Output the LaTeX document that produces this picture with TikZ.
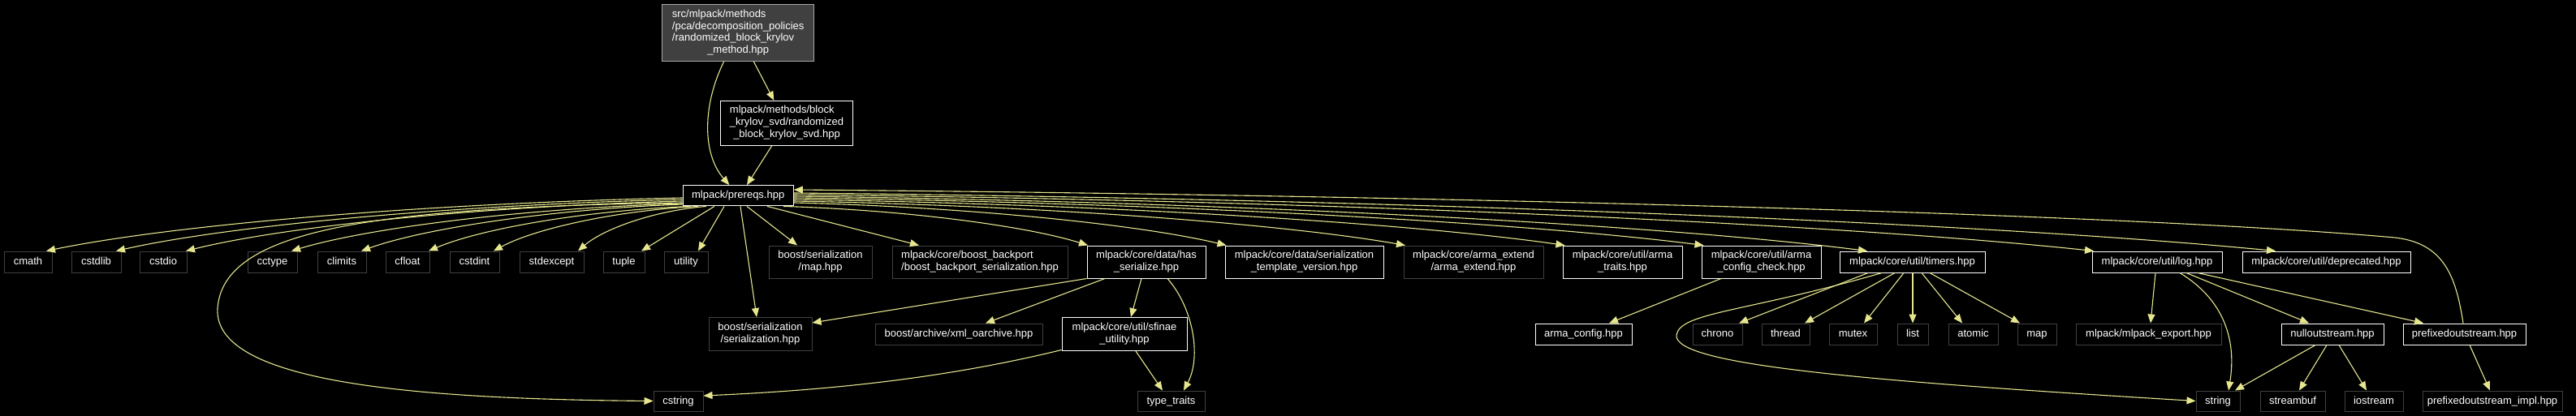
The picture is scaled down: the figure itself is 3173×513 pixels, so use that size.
\documentclass[tikz,border=0pt]{standalone}
\usepackage{fontspec}
\setmainfont{Liberation Sans}
\usetikzlibrary{arrows.meta}
\definecolor{edgec}{HTML}{E6E68F}
\definecolor{undb}{HTML}{404040}
\definecolor{rootf}{HTML}{404040}
\definecolor{rootb}{HTML}{A8A8A8}
\newcommand{\nf}{\fontsize{13pt}{14.8pt}\selectfont}
\newcommand{\ml}[2]{\begin{tabular}{@{}l@{}}#1\\\multicolumn{1}{@{}c@{}}{#2}\end{tabular}}
\tikzset{
  base/.style={rectangle, inner sep=0pt, text=white, font=\nf, line width=1pt},
  doc/.style={base, draw=white, fill=black},
  und/.style={base, draw=undb, fill=black},
  rootn/.style={base, draw=rootb, fill=rootf},
  sl/.style={minimum height=26pt, text height=11pt, text depth=4pt},
  dl/.style={minimum height=40pt},
  edge/.style={draw=edgec, line width=1.1pt, -{Triangle[length=11pt,width=9pt]}},
}
\begin{document}
\begin{tikzpicture}[x=1pt,y=1pt]
\fill[black] (0,0) rectangle (3173,-513);
\useasboundingbox (0,0) rectangle (3173,-513);
% top
\node[rootn, minimum width=187pt, minimum height=69.6pt] (root) at (909.2,-40.5) {\ml{src/mlpack/methods\\/pca/decomposition\_policies\\/randomized\_block\_krylov}{\_method.hpp}};
\node[doc, minimum width=163.4pt, minimum height=55pt] (svd) at (969,-151.8) {\ml{mlpack/methods/block\\\_krylov\_svd/randomized}{\_block\_krylov\_svd.hpp}};
\node[doc, minimum width=136.3pt, minimum height=25.3pt, text height=11pt, text depth=4pt] (prereqs) at (909.2,-241.3) {mlpack/prereqs.hpp};
% row 1
\node[und, sl, minimum width=59pt] (cmath) at (34.5,-323) {cmath};
\node[und, sl, minimum width=61pt] (cstdlib) at (118.5,-323) {cstdlib};
\node[und, sl, minimum width=58pt] (cstdio) at (201,-323) {cstdio};
\node[und, sl, minimum width=61pt] (cctype) at (335.5,-323) {cctype};
\node[und, sl, minimum width=60pt] (climits) at (421,-323) {climits};
\node[und, sl, minimum width=54pt] (cfloat) at (502,-323) {cfloat};
\node[und, sl, minimum width=61pt] (cstdint) at (584.5,-323) {cstdint};
\node[und, sl, minimum width=79pt] (stdexcept) at (679.5,-323) {stdexcept};
\node[und, sl, minimum width=51pt] (tuple) at (768.5,-323) {tuple};
\node[und, sl, minimum width=54pt] (utility) at (845,-323) {utility};
\node[und, dl, minimum width=127pt] (bsmap) at (1010.5,-323) {\ml{boost/serialization}{/map.hpp}};
\node[und, dl, minimum width=216pt] (backport) at (1207,-323) {\ml{mlpack/core/boost\_backport}{/boost\_backport\_serialization.hpp}};
\node[doc, dl, minimum width=146pt] (hasser) at (1412,-323) {\ml{mlpack/core/data/has}{\_serialize.hpp}};
\node[doc, dl, minimum width=195pt] (tplver) at (1606.5,-323) {\ml{mlpack/core/data/serialization}{\_template\_version.hpp}};
\node[und, dl, minimum width=172pt] (armaext) at (1815,-323) {\ml{mlpack/core/arma\_extend}{/arma\_extend.hpp}};
\node[doc, dl, minimum width=147pt] (armatraits) at (1998.5,-323) {\ml{mlpack/core/util/arma}{\_traits.hpp}};
\node[doc, dl, minimum width=147pt] (armacc) at (2169.5,-323) {\ml{mlpack/core/util/arma}{\_config\_check.hpp}};
\node[doc, sl, minimum width=179pt] (timers) at (2355.5,-323) {mlpack/core/util/timers.hpp};
\node[doc, sl, minimum width=160pt] (log) at (2657,-323) {mlpack/core/util/log.hpp};
\node[doc, sl, minimum width=207pt] (deprec) at (2865.5,-323) {mlpack/core/util/deprecated.hpp};
% row 2
\node[und, minimum height=41pt, minimum width=127pt] (bsser) at (936.5,-412) {\ml{boost/serialization}{/serialization.hpp}};
\node[und, sl, minimum width=206pt] (xmlo) at (1181,-412) {boost/archive/xml\_oarchive.hpp};
\node[doc, minimum height=41pt, minimum width=154pt] (sfinae) at (1385,-412) {\ml{mlpack/core/util/sfinae}{\_utility.hpp}};
\node[doc, sl, minimum width=119pt] (armacfg) at (1950.5,-412) {arma\_config.hpp};
\node[und, sl, minimum width=61pt] (chrono) at (2115.5,-412) {chrono};
\node[und, sl, minimum width=59pt] (thread) at (2199.5,-412) {thread};
\node[und, sl, minimum width=59pt] (mutex) at (2282.5,-412) {mutex};
\node[und, sl, minimum width=38pt] (list) at (2356,-412) {list};
\node[und, sl, minimum width=61pt] (atomic) at (2430.5,-412) {atomic};
\node[und, sl, minimum width=48pt] (stdmap) at (2509,-412) {map};
\node[und, sl, minimum width=179pt] (export) at (2646.5,-412) {mlpack/mlpack\_export.hpp};
\node[doc, sl, minimum width=126pt] (nullos) at (2873,-412) {nulloutstream.hpp};
\node[doc, sl, minimum width=151pt] (prefos) at (3035.5,-412) {prefixedoutstream.hpp};
% row 3
\node[und, minimum height=25pt, text height=11pt, text depth=4pt, minimum width=61pt] (cstring) at (835.5,-494.5) {cstring};
\node[und, minimum height=25pt, text height=11pt, text depth=4pt, minimum width=83pt] (typetraits) at (1442.5,-494.5) {type\_traits};
\node[und, minimum height=25pt, text height=11pt, text depth=4pt, minimum width=54pt] (string) at (2732,-494.5) {string};
\node[und, minimum height=25pt, text height=11pt, text depth=4pt, minimum width=80pt] (streambuf) at (2824,-494.5) {streambuf};
\node[und, minimum height=25pt, text height=11pt, text depth=4pt, minimum width=72pt] (iostream) at (2924,-494.5) {iostream};
\node[und, minimum height=25pt, text height=11pt, text depth=4pt, minimum width=172pt] (prefimpl) at (3070,-494.5) {prefixedoutstream\_impl.hpp};
% edges top
\draw[edge] ([xshift=-17.5pt]root.south) .. controls (865,-130) and (865,-190) .. ([xshift=-10.9pt]prereqs.north);
\draw[edge] ([xshift=19.1pt]root.south) -- ([xshift=-15.7pt]svd.north);
\draw[edge] ([xshift=-18.3pt]svd.south) -- ([xshift=10.8pt]prereqs.north);
% prereqs -> row 1 left
\draw[edge] ([yshift=-2.7pt]prereqs.west) .. controls (527.4,-250.6) and (213.8,-277) .. ([xshift=22.5pt]cmath.north);
\draw[edge] ([yshift=-4.7pt]prereqs.west) .. controls (561.8,-252.4) and (282.6,-278) .. ([xshift=24.5pt]cstdlib.north);
\draw[edge] ([yshift=-6.7pt]prereqs.west) .. controls (596.2,-254.2) and (351.4,-279) .. ([xshift=28pt]cstdio.north);
\draw[edge] ([yshift=-9.7pt]prereqs.west) .. controls (648.2,-256.9) and (455.4,-280.5) .. ([xshift=23.5pt]cctype.north);
\draw[edge] ([yshift=-10.7pt]prereqs.west) .. controls (682.6,-257.8) and (524.2,-281) .. ([xshift=24pt]climits.north);
\draw[edge] ([xshift=-59.2pt]prereqs.south) .. controls (721.2,-259.6) and (592.4,-282) .. ([xshift=26pt]cfloat.north);
\draw[edge] ([xshift=-49.2pt]prereqs.south) .. controls (759.2,-259.6) and (658.4,-282) .. ([xshift=23.5pt]cstdint.north);
\draw[edge] ([xshift=-39.2pt]prereqs.south) .. controls (806.8,-259.6) and (743.6,-282) .. ([xshift=32.5pt]stdexcept.north);
\draw[edge] ([xshift=-29.2pt]prereqs.south) -- ([xshift=21.5pt]tuple.north);
\draw[edge] ([xshift=-17.2pt]prereqs.south) -- ([xshift=15pt]utility.north);
\draw[edge] ([yshift=-8.7pt]prereqs.west) .. controls (450,-256) and (275,-285) .. (268,-380) .. controls (262,-470) and (500,-492) .. (cstring.west);
% prereqs -> right
\draw[edge] ([xshift=2.8pt]prereqs.south) -- ([xshift=-4.5pt]bsser.north);
\draw[edge] ([xshift=10.8pt]prereqs.south) -- ([xshift=-28.5pt]bsmap.north);
\draw[edge] ([xshift=35.8pt]prereqs.south) -- ([xshift=-75pt]backport.north);
\draw[edge] ([xshift=55.8pt]prereqs.south) .. controls (1114.2,-258.9) and (1263.4,-278.5) .. ([xshift=-72pt]hasser.north);
\draw[edge] ([yshift=-8.7pt]prereqs.east) .. controls (1189.4,-255.3) and (1401.8,-276.5) .. ([xshift=-96pt]tplver.north);
\draw[edge] ([yshift=-6.7pt]prereqs.east) .. controls (1276.6,-253.5) and (1576.2,-275.5) .. ([xshift=-84pt]armaext.north);
\draw[edge] ([yshift=-4.7pt]prereqs.east) .. controls (1354.6,-251.7) and (1732.2,-274.5) .. ([xshift=-71pt]armatraits.north);
\draw[edge] ([yshift=-2.7pt]prereqs.east) .. controls (1423,-249.9) and (1869,-273.5) .. ([xshift=-71pt]armacc.north);
\draw[edge] ([yshift=-0.7pt]prereqs.east) .. controls (1506.2,-248.8) and (2035.4,-276) .. ([xshift=-55.5pt]timers.north);
\draw[edge] ([yshift=1.3pt]prereqs.east) .. controls (1616.2,-247) and (2255.4,-275) .. ([xshift=-78pt]log.north);
\draw[edge] ([yshift=3.3pt]prereqs.east) .. controls (1707.4,-245.2) and (2437.8,-274) .. ([xshift=-62.5pt]deprec.north);
\draw[edge] ([xshift=-1.5pt]prefos.north) .. controls (3025,-340) and (3010,-300) .. (2950,-293) .. controls (2600,-262) and (1700,-240) .. ([yshift=7.3pt]prereqs.east);
% has_serialize
\draw[edge] (hasser.south west) -- ([yshift=14pt]bsser.east);
\draw[edge] ([xshift=-51pt]hasser.south) -- ([xshift=33pt]xmlo.north);
\draw[edge] ([xshift=-6pt]hasser.south) -- ([xshift=8pt]sfinae.north);
\draw[edge] ([xshift=26pt]hasser.south) .. controls (1470,-380) and (1480,-440) .. ([xshift=15.5pt]typetraits.north);
% sfinae
\draw[edge] ([xshift=14pt]sfinae.south) -- ([xshift=-10.5pt]typetraits.north);
\draw[edge] ([yshift=1.5pt]sfinae.south west) .. controls (1150,-470) and (1000,-482) .. ([yshift=6.5pt]cstring.east);
% arma config
\draw[edge] ([xshift=-49.5pt]armacc.south) -- ([xshift=31.5pt]armacfg.north);
% timers
\draw[edge] ([xshift=-54.5pt]timers.south) -- ([xshift=26.5pt]chrono.north);
\draw[edge] ([xshift=-21.5pt]timers.south) -- ([xshift=23.5pt]thread.north);
\draw[edge] ([xshift=-10.5pt]timers.south) -- ([xshift=13.5pt]mutex.north);
\draw[edge] ([xshift=0.5pt]timers.south) -- (list.north);
\draw[edge] ([xshift=11.5pt]timers.south) -- ([xshift=-13.5pt]atomic.north);
\draw[edge] ([xshift=21.5pt]timers.south) -- ([xshift=-21pt]stdmap.north);
\draw[edge] ([xshift=-37.5pt]timers.south) .. controls (2150,-385) and (2070,-385) .. (2065,-413) .. controls (2060,-450) and (2300,-470) .. (string.west);
% log
\draw[edge] ([xshift=-2pt]log.south) -- ([xshift=2.5pt]export.north);
\draw[edge] ([xshift=28pt]log.south) .. controls (2740,-370) and (2755,-420) .. ([xshift=13pt]string.north);
\draw[edge] ([xshift=36pt]log.south) -- ([xshift=-29pt]nullos.north);
\draw[edge] ([xshift=50pt]log.south) -- ([xshift=-50.5pt]prefos.north);
% nulloutstream
\draw[edge] ([xshift=-21pt]nullos.south) -- ([xshift=21pt]string.north);
\draw[edge] ([xshift=-7pt]nullos.south) -- ([xshift=8pt]streambuf.north);
\draw[edge] ([xshift=8pt]nullos.south) -- ([xshift=-9pt]iostream.north);
% prefixedoutstream
\draw[edge] ([xshift=6.5pt]prefos.south) -- ([xshift=-3pt]prefimpl.north);
\end{tikzpicture}
\end{document}
